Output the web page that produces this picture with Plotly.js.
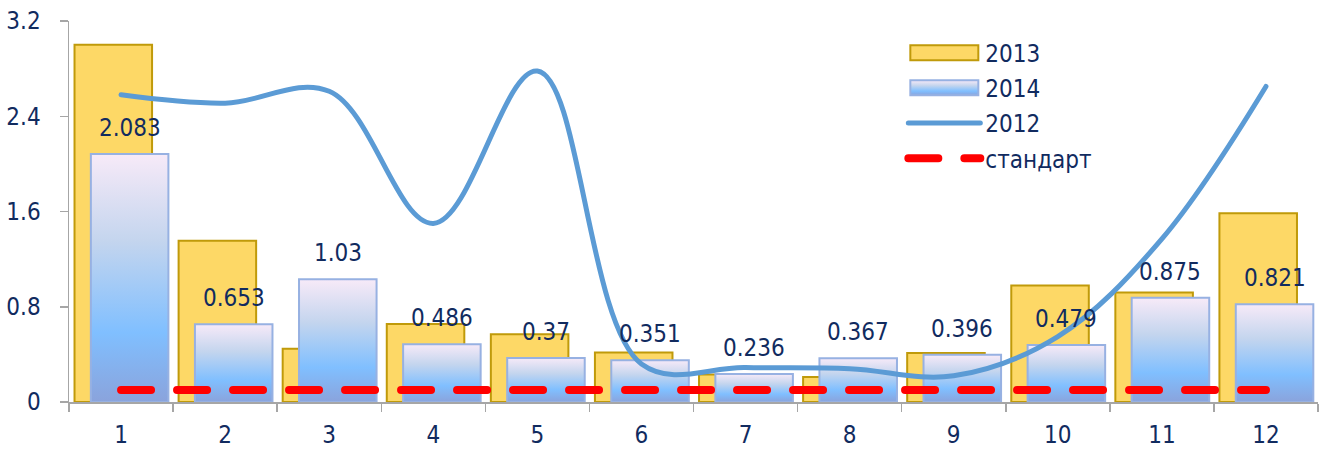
<!DOCTYPE html>
<html><head><meta charset="utf-8">
<script src="https://cdn.plot.ly/plotly-3.0.1.min.js"></script>
<style>html,body{margin:0;padding:0;background:#fff}#chart{width:1325px;height:452px}</style>
</head><body><div id="chart"></div>
<script>
const months = ['1','2','3','4','5','6','7','8','9','10','11','12'];
const values2013 = [3.00, 1.355, 0.448, 0.655, 0.569, 0.415, 0.232, 0.21, 0.412, 0.978, 0.919, 1.586];
const values2014 = [2.083, 0.653, 1.03, 0.486, 0.37, 0.351, 0.236, 0.367, 0.396, 0.479, 0.875, 0.821];
const labels2014 = ['2.083','0.653','1.03','0.486','0.37','0.351','0.236','0.367','0.396','0.479','0.875','0.821'];
const values2012 = [2.58, 2.51, 2.61, 1.50, 2.78, 0.32, 0.29, 0.28, 0.22, 0.55, 1.37, 2.65];
const standard = [0.1, 0.1, 0.1, 0.1, 0.1, 0.1, 0.1, 0.1, 0.1, 0.1, 0.1, 0.1];
const seriesNames = ['2013', '2014', '2012', 'стандарт'];

const FONT = '"DejaVu Sans Condensed", "DejaVu Sans", sans-serif';
const TXT = '#112b5f';
const BAR_W = 0.745, OFF13 = -0.447, OFF14 = -0.29;

const traces = [
  {type:'bar', name:seriesNames[0], x:months, y:values2013, width:BAR_W, offset:OFF13,
   marker:{color:'#fdd866', line:{color:'#c09a0a', width:2}}, legendgroup:'a'},
  {type:'bar', name:seriesNames[1], x:months, y:values2014, width:BAR_W, offset:OFF14,
   marker:{color:'#a9cdf3', line:{color:'#97b1e2', width:2}}, legendgroup:'b'},
  {type:'scatter', mode:'lines', name:seriesNames[2], x:months, y:values2012,
   line:{color:'#5b9bd5', width:5, shape:'spline', smoothing:1.05}, legendgroup:'c'},
  {type:'scatter', mode:'lines', name:seriesNames[3], x:months, y:standard,
   line:{color:'#ff0000', width:8, dash:'30px,26px'}, legendgroup:'d'}
];

const annotations = labels2014.map((t, i) => ({
  x: i + OFF14 + BAR_W / 2, y: values2014[i], xref:'x', yref:'y', text:t, showarrow:false,
  yanchor:'bottom', yshift:10, font:{family:FONT, size:24, color:TXT}
}));

const layout = {
  width:1325, height:452, margin:{l:69, r:7, t:21, b:50},
  paper_bgcolor:'#fff', plot_bgcolor:'#fff',
  font:{family:FONT, size:24, color:TXT},
  barmode:'overlay', showlegend:true,
  xaxis:{type:'category', range:[-0.5, 11.5], tickson:'boundaries', ticks:'outside', ticklen:8,
    tickcolor:'#a6a6a6', tickwidth:1.5, showline:true, linecolor:'#a6a6a6', linewidth:1.5,
    showgrid:false, zeroline:false, tickfont:{family:FONT, size:24, color:TXT}, ticklabelstandoff:11},
  yaxis:{range:[0, 3.2], tick0:0, dtick:0.8, ticks:'outside', ticklen:8, tickcolor:'#a6a6a6', tickwidth:1.5,
    showline:true, linecolor:'#a6a6a6', linewidth:1.5, showgrid:false, zeroline:false,
    tickfont:{family:FONT, size:24, color:TXT}, ticklabelstandoff:14},
  legend:{x:0.668, y:0.975, xanchor:'left', yanchor:'top', bgcolor:'rgba(0,0,0,0)',
    font:{family:FONT, size:24, color:TXT}, itemwidth:72, traceorder:'grouped', tracegroupgap:1},
  annotations: annotations
};

function decorate() {
  const svg = document.querySelector('#chart svg.main-svg');
  if (!svg) return;
  const NS = 'http://www.w3.org/2000/svg';
  if (!document.getElementById('g14')) {
    const defs = document.createElementNS(NS, 'defs');
    const lg = document.createElementNS(NS, 'linearGradient');
    lg.setAttribute('id', 'g14'); lg.setAttribute('x1', '0'); lg.setAttribute('y1', '0');
    lg.setAttribute('x2', '0'); lg.setAttribute('y2', '1');
    [['0', '#f7eaf8'], ['0.35', '#c4d5ee'], ['0.72', '#80bfff'], ['1', '#8aa3dc']].forEach(([o, c]) => {
      const s = document.createElementNS(NS, 'stop');
      s.setAttribute('offset', o); s.setAttribute('stop-color', c); lg.appendChild(s);
    });
    defs.appendChild(lg); svg.insertBefore(defs, svg.firstChild);
  }
  const barTraces = document.querySelectorAll('#chart .barlayer .trace');
  if (barTraces[1]) barTraces[1].querySelectorAll('path').forEach(p => { p.style.fill = 'url(#g14)'; });
  const leg = document.querySelectorAll('#chart .legend .traces');
  let lineStart = 5, lineLen = 72;
  if (leg[2]) {
    const lp = leg[2].querySelector('.legendlines path');
    if (lp) {
      const m = /M([\d.\-]+),[\d.\-]+h([\d.\-]+)/.exec(lp.getAttribute('d') || '');
      if (m) { lineStart = +m[1]; lineLen = +m[2]; }
    }
  }
  const barLen = lineLen - 4;
  [0, 1].forEach(i => {
    if (!leg[i]) return;
    const p = leg[i].querySelector('.legendpoints path');
    if (!p) return;
    p.setAttribute('transform', 'translate(' + (lineStart + lineLen / 2) + ',0)');
    p.setAttribute('d', 'M' + (-barLen / 2) + ',-7.5h' + barLen + 'v15h' + (-barLen) + 'Z');
    if (i === 1) p.style.fill = 'url(#g14)';
  });
  document.querySelectorAll('#chart .scatterlayer .trace path.js-line, #chart .legend .legendlines path').forEach(p => {
    p.style.strokeLinecap = 'round'; p.style.strokeLinejoin = 'round';
  });
}

Plotly.newPlot('chart', traces, layout, {displayModeBar:false, staticPlot:true}).then(decorate);
</script></body></html>
